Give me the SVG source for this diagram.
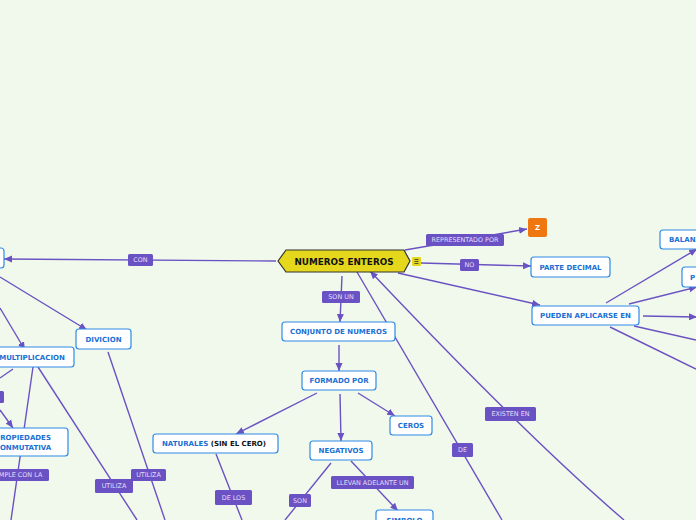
<svg xmlns="http://www.w3.org/2000/svg" width="696" height="520" viewBox="0 0 696 520">
<style>
.c{stroke:#6a52c2;stroke-width:1.4;fill:none}
.a{marker-end:url(#ar)}
.n{fill:#fff;stroke:#2e8ae6;stroke-width:1.2}
.t{font-family:"DejaVu Sans",Verdana,sans-serif;font-weight:bold;font-size:7px;fill:#1a6fd4;text-anchor:middle}
.s{text-anchor:start}
.lb{fill:#6b52c4}
.lt{font-family:"DejaVu Sans",Verdana,sans-serif;font-size:6.4px;fill:#e4defa;text-anchor:middle}
</style>
<defs>
<marker id="ar" markerUnits="userSpaceOnUse" markerWidth="9" markerHeight="8" refX="8" refY="4" orient="auto">
<path d="M0,0.5 L8,4 L0,7.5 z" fill="#6a52c2"/>
</marker>
</defs>
<rect width="696" height="520" fill="#f1f9ed"/>
<g id="connectors">
<path class="c a" d="M405,250 L527,229"/>
<path class="c a" d="M421,263 L531,266"/>
<path class="c a" d="M398,273 L540,305"/>
<path class="c a" d="M606,303 L697,249"/>
<path class="c a" d="M629,304 L697,287"/>
<path class="c a" d="M643,316 L697,317"/>
<path class="c" d="M634,326 L696,340"/>
<path class="c" d="M610,327 L696,369"/>
<path class="c a" d="M276,261 L4,259"/>
<path class="c a" d="M0,277 L87,330"/>
<path class="c a" d="M0,308 L25,350"/>
<path class="c" d="M13,369 L0,378"/>
<path class="c a" d="M0,410 L13,428"/>
<path class="c" d="M33,367 L11,520"/>
<path class="c" d="M38,367 L137,520"/>
<path class="c" d="M108,352 L165,520"/>
<path class="c a" d="M342,276 L340,322"/>
<path class="c a" d="M339,345 L339,371"/>
<path class="c a" d="M317,393 L236,434"/>
<path class="c a" d="M340,394 L341,441"/>
<path class="c a" d="M358,393 L395,416"/>
<path class="c" d="M216,454 L242,520"/>
<path class="c" d="M331,463 L285,520"/>
<path class="c a" d="M351,461 L398,511"/>
<path class="c" d="M357,272 L502,520"/>
<path class="c a" d="M624,520 Q530,440 370,271"/>
<g id="labels">
<rect class="lb" x="426" y="234" width="78" height="12" rx="1.5"/><text class="lt" x="465" y="242.3">REPRESENTADO POR</text>
<rect class="lb" x="460" y="259" width="19" height="12" rx="1.5"/><text class="lt" x="469.5" y="267.3">NO</text>
<rect class="lb" x="128" y="254" width="25" height="12" rx="1.5"/><text class="lt" x="140.5" y="262.3">CON</text>
<rect class="lb" x="322" y="291" width="38" height="12" rx="1.5"/><text class="lt" x="341" y="299.3">SON UN</text>
<rect class="lb" x="-10" y="391" width="14" height="12" rx="1.5"/>
<rect class="lb" x="-20" y="469" width="69" height="12" rx="1.5"/><text class="lt" x="16" y="477.3">CUMPLE CON LA</text>
<rect class="lb" x="95" y="479" width="38" height="14" rx="1.5"/><text class="lt" x="114" y="488.3">UTILIZA</text>
<rect class="lb" x="131" y="469" width="35" height="12" rx="1.5"/><text class="lt" x="148.5" y="477.3">UTILIZA</text>
<rect class="lb" x="215" y="490" width="37" height="15" rx="1.5"/><text class="lt" x="233.5" y="499.8">DE LOS</text>
<rect class="lb" x="289" y="494" width="22" height="13" rx="1.5"/><text class="lt" x="300" y="502.8">SON</text>
<rect class="lb" x="331" y="476" width="83" height="13" rx="1.5"/><text class="lt" x="372.5" y="484.8">LLEVAN ADELANTE UN</text>
<rect class="lb" x="452" y="443" width="21" height="14" rx="1.5"/><text class="lt" x="462.5" y="452.3">DE</text>
<rect class="lb" x="485" y="407" width="51" height="14" rx="1.5"/><text class="lt" x="510.5" y="416.3">EXISTEN EN</text>
</g>
</g>
<g id="n-central">
<path d="M278,261 L286,250 L404,250 L410,261 L404,272 L286,272 Z" fill="#e5d81c" stroke="#333" stroke-width="1.2"/>
<text x="344" y="264.8" font-family="DejaVu Sans,Verdana,sans-serif" font-weight="bold" font-size="8px" fill="#111" text-anchor="middle" textLength="99" lengthAdjust="spacingAndGlyphs">NUMEROS ENTEROS</text>
<rect x="412" y="257" width="9" height="9" rx="1" fill="#e5d81c"/>
<path d="M414.5,259.5 h4 M414.5,261.5 h4 M414.5,263.5 h4" stroke="#333" stroke-width="0.8"/>
</g>
<g id="n-z">
<rect x="528" y="218" width="19" height="19" rx="2" fill="#ee7711"/>
<text x="537.5" y="230" font-family="DejaVu Sans,Verdana,sans-serif" font-weight="bold" font-size="7px" fill="#fff" text-anchor="middle">Z</text>
</g>
<g id="n-decimal"><rect class="n" x="531" y="257" width="79" height="20" rx="3"/><text class="t" x="570.5" y="269.5">PARTE DECIMAL</text></g>
<g id="n-pueden"><rect class="n" x="532" y="306" width="107" height="19" rx="3"/><text class="t" x="585.5" y="318">PUEDEN APLICARSE EN</text></g>
<g id="n-balan"><rect class="n" x="660" y="230" width="50" height="19" rx="3"/><text class="t s" x="669" y="242">BALANZA</text></g>
<g id="n-p"><rect class="n" x="682" y="267" width="30" height="20" rx="3"/><text class="t s" x="690" y="279.5">P</text></g>
<g id="n-left"><rect class="n" x="-40" y="248" width="44" height="20" rx="3"/></g>
<g id="n-divicion"><rect class="n" x="76" y="329" width="55" height="20" rx="3"/><text class="t" x="103.5" y="341.5">DIVICION</text></g>
<g id="n-mult"><rect class="n" x="-20" y="347" width="94" height="20" rx="3"/><text class="t" x="32" y="359.5">MULTIPLICACION</text></g>
<g id="n-prop"><rect class="n" x="-30" y="428" width="98" height="28" rx="3"/><text class="t" x="23" y="439.8">PROPIEDADES</text><text class="t" x="23" y="449.8">CONMUTATIVA</text></g>
<g id="n-conjunto"><rect class="n" x="282" y="322" width="113" height="19" rx="3"/><text class="t" x="338.5" y="334">CONJUNTO DE NUMEROS</text></g>
<g id="n-formado"><rect class="n" x="302" y="371" width="74" height="19" rx="3"/><text class="t" x="339" y="383">FORMADO POR</text></g>
<g id="n-naturales"><rect class="n" x="153" y="434" width="125" height="19" rx="3"/><text class="t s" x="162" y="446.3">NATURALES <tspan fill="#111"> (SIN EL CERO)</tspan></text></g>
<g id="n-negativos"><rect class="n" x="310" y="441" width="62" height="19" rx="3"/><text class="t" x="341" y="453">NEGATIVOS</text></g>
<g id="n-ceros"><rect class="n" x="390" y="416" width="42" height="19" rx="3"/><text class="t" x="411" y="428">CEROS</text></g>
<g id="n-simbolo"><rect class="n" x="376" y="510" width="57" height="20" rx="3"/><text class="t" x="404.5" y="523">SIMBOLO</text></g>
</svg>
